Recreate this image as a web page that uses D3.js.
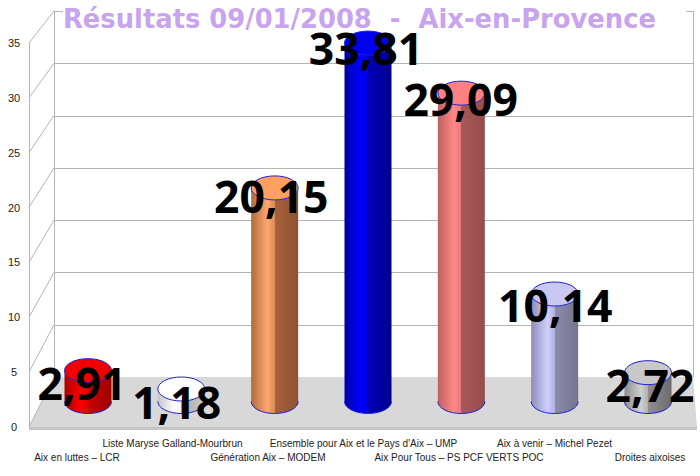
<!DOCTYPE html>
<html>
<head>
<meta charset="utf-8">
<script src="https://cdn.jsdelivr.net/npm/d3@7"></script>
<style>
  html, body { margin: 0; padding: 0; background: #fff; }
  svg { display: block; }
</style>
</head>
<body>
<div id="chart"></div>
<script>
// Chart data
const categories = ["Aix en luttes – LCR", "Liste Maryse Galland-Mourbrun", "Génération Aix – MODEM",
    "Ensemble pour Aix et le Pays d'Aix – UMP", "Aix Pour Tous – PS PCF VERTS POC",
    "Aix à venir – Michel Pezet", "Droites aixoises"];
const values = [2.91, 1.18, 20.15, 33.81, 29.09, 10.14, 2.72];
const valueLabels = ["2,91", "1,18", "20,15", "33,81", "29,09", "10,14", "2,72"];
const ticks = [0, 5, 10, 15, 20, 25, 30, 35];
const chartTitle = "Résultats 09/01/2008\u00a0 -\u00a0 Aix-en-Provence";

// left dark, highlight, mid, right start, right end, top face
const barColors = [
    ["#a80000", "#ff0000", "#e00000", "#c80000", "#a00000", "#f00000"],
    ["#c4c4d0", "#ffffff", "#f0f0f8", "#a8a8a8", "#cccccc", "#ffffff"],
    ["#b06a3e", "#ffa870", "#d88a58", "#a8623c", "#8e5230", "#ffa060"],
    ["#0000a8", "#0000ff", "#0000e0", "#0000b8", "#000090", "#0000f0"],
    ["#c06060", "#ff8888", "#e87878", "#a85858", "#964c4c", "#ff8080"],
    ["#8c8cb4", "#d0d0ff", "#b0b0dc", "#8c8cac", "#74748e", "#c8c8f0"],
    ["#8c8c8c", "#d0d0d0", "#b0b0b0", "#909090", "#6c6c6c", "#c8c8c8"]
];

const width = 700, height = 476;

const svg = d3.select("#chart")
    .append("svg")
    .attr("width", width)
    .attr("height", height);

// Scales: the front edge of the floor, the back wall and the bars each have their own
const yFront = d3.scaleLinear().domain([0, 35]).range([427, 43]);
const yBack = d3.scaleLinear().domain([0, 35]).range([377, 11]);
const yBar = d3.scaleLinear().domain([0, 35]).range([401.5, 30.5]);
const yValue = d3.scaleLinear().domain([0, 35]).range([432, 52]);
const x = d3.scalePoint().domain(categories).range([88, 648]);
const xValue = d3.scalePoint().domain(categories).range([82, 650]);
const xLabel = d3.scalePoint().domain(categories).range([77, 650]);

const frontX = 29, backX = 54, backRight = 693, frontRight = 697;
const rx = 23.5, ry = 12;
const gridColor = "#b4b4b4";

// Floor
svg.append("path")
    .attr("d", `M${frontX},${yFront(0)}L${backX},${yBack(0)}H${backRight}L${frontRight},${yFront(0)}Z`)
    .attr("fill", "#d8d8d8");
svg.append("rect")
    .attr("x", frontX).attr("y", yFront(0))
    .attr("width", frontRight - frontX).attr("height", 3)
    .attr("fill", "#c4c4c4");

// Walls and grid lines
const grid = svg.append("g")
    .attr("fill", "none")
    .attr("stroke", gridColor)
    .attr("stroke-width", 1)
    .attr("shape-rendering", "crispEdges");
grid.append("line")
    .attr("x1", frontX + 0.5).attr("x2", frontX + 0.5)
    .attr("y1", yFront(35)).attr("y2", yFront(0));
grid.append("line")
    .attr("x1", backX + 0.5).attr("x2", backX + 0.5)
    .attr("y1", yBack(35)).attr("y2", yBack(0));
grid.append("line")
    .attr("x1", backRight + 0.5).attr("x2", backRight + 0.5)
    .attr("y1", yBack(35)).attr("y2", yBack(0));
grid.selectAll(".hline")
    .data(ticks.filter(d => d > 0))
    .join("line")
    .attr("class", "hline")
    .attr("x1", backX).attr("x2", backRight)
    .attr("y1", d => Math.round(yBack(d)) + 0.5)
    .attr("y2", d => Math.round(yBack(d)) + 0.5);
svg.append("g")
    .attr("stroke", gridColor)
    .selectAll("line")
    .data(ticks)
    .join("line")
    .attr("x1", frontX).attr("x2", backX)
    .attr("y1", d => yFront(d))
    .attr("y2", d => yBack(d));

// Y axis labels
svg.append("g")
    .attr("font-family", "'Liberation Sans', Arial, sans-serif")
    .attr("font-size", 11)
    .attr("fill", "#222")
    .attr("text-anchor", "middle")
    .selectAll("text")
    .data(ticks)
    .join("text")
    .attr("x", 14)
    .attr("y", d => yFront(d) + 4)
    .text(d => d);

// Cylinder gradients
const defs = svg.append("defs");
barColors.forEach((c, i) => {
    const grad = defs.append("linearGradient").attr("id", `bar-${i}`);
    [[0, c[0]], [0.35, c[1]], [0.5, c[2]], [0.5, c[3]], [1, c[4]]].forEach(s => {
        grad.append("stop").attr("offset", s[0]).attr("stop-color", s[1]);
    });
});

// Cylinders
const bars = svg.append("g")
    .selectAll("g")
    .data(categories)
    .join("g");

bars.append("path")
    .attr("d", (d, i) => {
        const cx = x(d), top = yBar(values[i]), base = yBar(0);
        return `M${cx - rx},${top}V${base}A${rx},${ry} 0 0 0 ${cx + rx},${base}V${top}A${rx},${ry} 0 0 1 ${cx - rx},${top}Z`;
    })
    .attr("fill", (d, i) => `url(#bar-${i})`);

// blue outline at the bottom
bars.append("path")
    .attr("d", d => `M${x(d) - rx},${yBar(0)}A${rx},${ry} 0 0 0 ${x(d) + rx},${yBar(0)}`)
    .attr("fill", "none")
    .attr("stroke", "#2020d0")
    .attr("stroke-width", 1);

bars.append("ellipse")
    .attr("cx", d => x(d))
    .attr("cy", (d, i) => yBar(values[i]))
    .attr("rx", rx)
    .attr("ry", ry)
    .attr("fill", (d, i) => barColors[i][5])
    .attr("stroke", "#2020d0")
    .attr("stroke-width", 1);

// Category labels, on two alternating rows
svg.append("g")
    .attr("font-family", "'Liberation Sans', Arial, sans-serif")
    .attr("font-size", 10)
    .attr("fill", "#222")
    .attr("text-anchor", "middle")
    .selectAll("text")
    .data(categories)
    .join("text")
    .attr("x", d => xLabel(d))
    .attr("y", (d, i) => i % 2 ? 447 : 461)
    .text(d => d);

// Value labels
svg.append("g")
    .attr("font-family", "'Open Sans', 'Noto Sans', sans-serif")
    .attr("font-weight", 700)
    .attr("font-size", 44.5)
    .attr("fill", "#000")
    .attr("text-anchor", "middle")
    .selectAll("text")
    .data(categories)
    .join("text")
    .attr("x", d => xValue(d))
    .attr("y", (d, i) => yValue(values[i]))
    .text((d, i) => valueLabels[i]);

// Title sits on its own white band, hiding the top wall line
svg.append("rect")
    .attr("x", 63).attr("y", 0)
    .attr("width", 623).attr("height", 30)
    .attr("fill", "#fff");
svg.append("text")
    .attr("x", 63)
    .attr("y", 28)
    .attr("font-family", "'DejaVu Sans', sans-serif")
    .attr("font-weight", 700)
    .attr("font-size", 27)
    .attr("fill", "#c8a4ee")
    .attr("textLength", 593)
    .attr("lengthAdjust", "spacingAndGlyphs")
    .text(chartTitle);
</script>
</body>
</html>
